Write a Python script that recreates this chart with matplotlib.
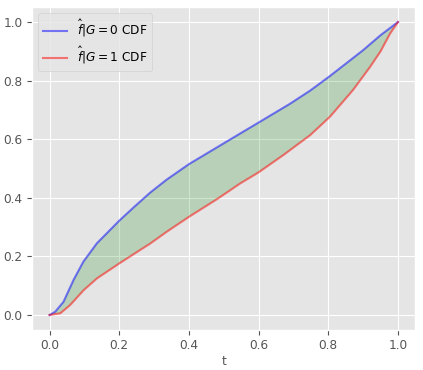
import numpy as np
import matplotlib
matplotlib.use("Agg")
import matplotlib.pyplot as plt

plt.style.use("ggplot")
plt.rcParams["font.size"] = 8.7

# CDF estimates
t_g0 = [0, 0.016, 0.04, 0.069, 0.097, 0.136, 0.2, 0.241, 0.289, 0.336, 0.4,
        0.49, 0.528, 0.6, 0.69, 0.748, 0.805, 0.9, 0.95, 0.98, 1.0]
cdf_g0 = [0, 0.011, 0.045, 0.12, 0.182, 0.245, 0.322, 0.367, 0.418, 0.462,
          0.515, 0.579, 0.606, 0.657, 0.721, 0.766, 0.816, 0.904, 0.955,
          0.982, 1.0]
t_g1 = [0, 0.031, 0.059, 0.098, 0.136, 0.2, 0.26, 0.289, 0.336, 0.4, 0.48,
        0.547, 0.6, 0.671, 0.748, 0.805, 0.871, 0.92, 0.95, 0.977, 1.0]
cdf_g1 = [0, 0.006, 0.034, 0.085, 0.125, 0.176, 0.222, 0.244, 0.284, 0.335,
          0.395, 0.449, 0.487, 0.546, 0.614, 0.677, 0.768, 0.847, 0.9, 0.96,
          1.0]

fig = plt.figure(figsize=(4.23, 3.7), dpi=100)
ax = fig.add_axes([0.076, 0.109, 0.906, 0.871])

ax.plot(t_g0, cdf_g0, color="blue", alpha=0.5, lw=1.5, label=r"$\hat{f}|G=0$ CDF")
ax.plot(t_g1, cdf_g1, color="red", alpha=0.5, lw=1.5, label=r"$\hat{f}|G=1$ CDF")
# area between the two curves
ax.fill(np.concatenate([t_g0, t_g1[::-1]]),
        np.concatenate([cdf_g0, cdf_g1[::-1]]),
        color="green", alpha=0.2, lw=0)

ax.set_xlim(-0.05, 1.05)
ax.set_ylim(-0.05, 1.05)
ax.set_xticks(np.arange(0, 1.01, 0.2))
ax.set_yticks(np.arange(0, 1.01, 0.2))
ax.set_xlabel("t", fontsize=8.7, labelpad=2)
ax.legend(loc="upper left")

fig.savefig("out.png", dpi=100)
